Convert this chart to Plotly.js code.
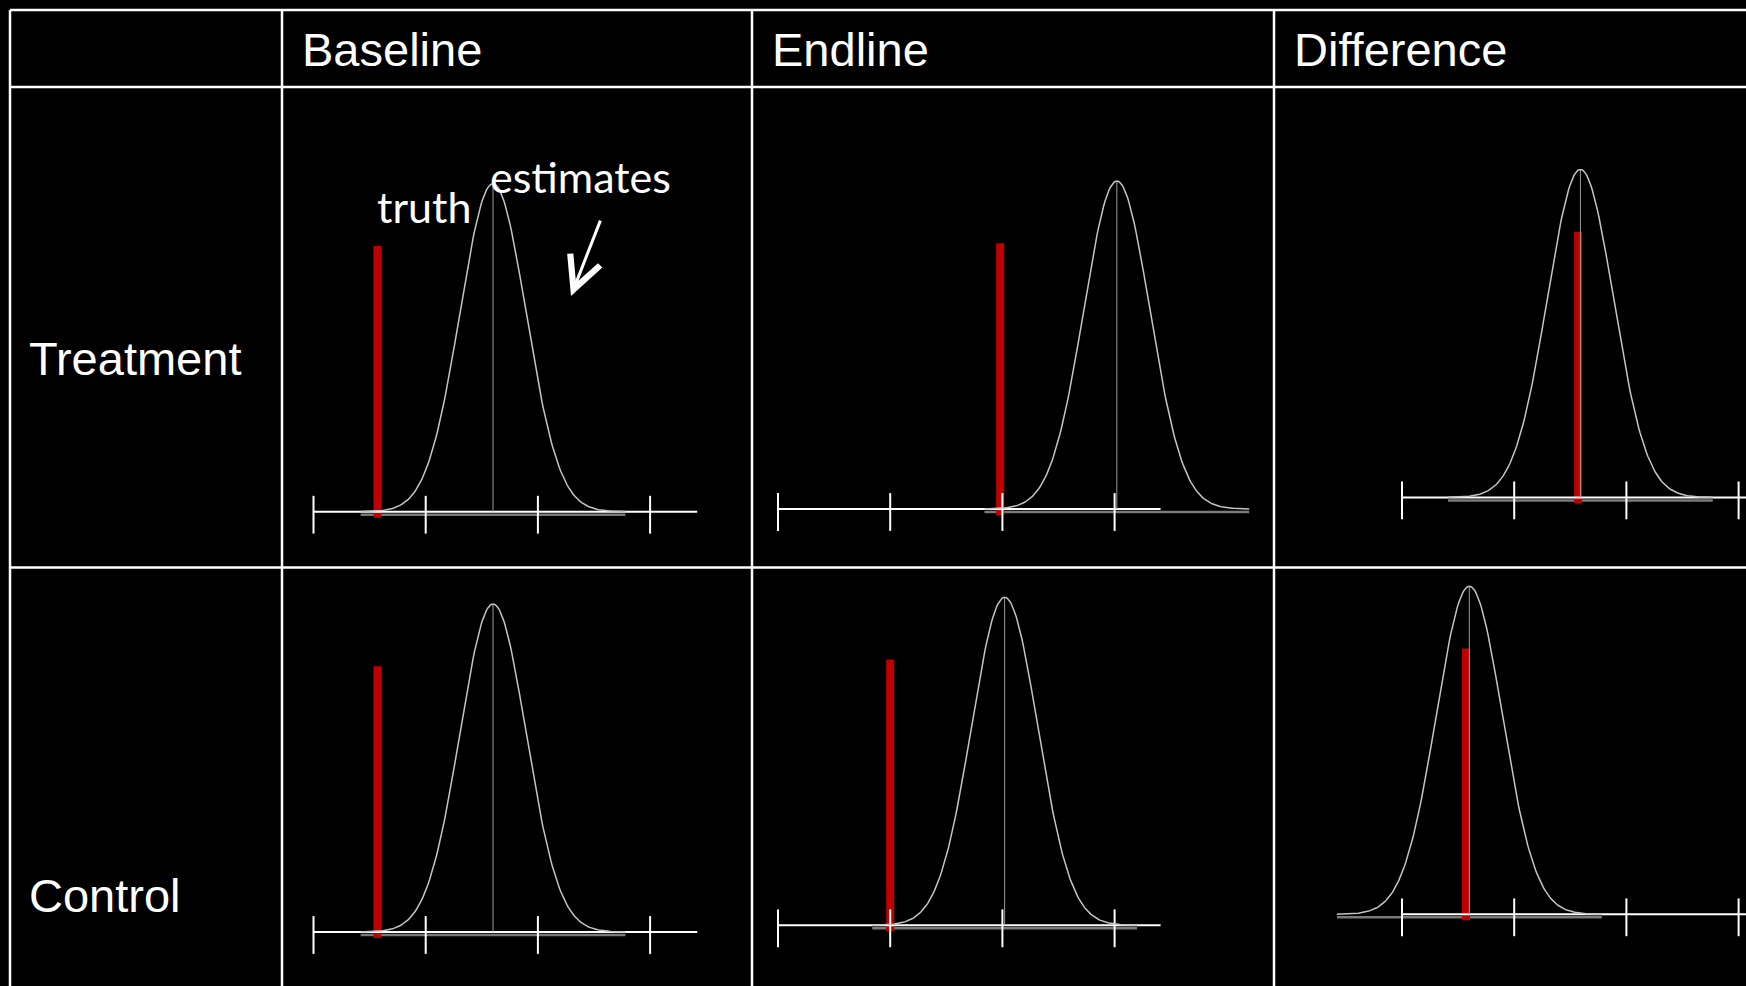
<!DOCTYPE html>
<html><head><meta charset="utf-8">
<script src="https://cdn.plot.ly/plotly-3.0.1.min.js"></script>
<style>html,body{margin:0;padding:0;background:#000;overflow:hidden}#chart{width:1746px;height:986px}</style>
</head><body><div id="chart"></div>
<script>
// ---------- data ----------
const columnLabels = ['Baseline', 'Endline', 'Difference'];
const rowLabels = ['Treatment', 'Control'];
const tickValues = [0, 1, 2, 3];
const truthTreatment = [0.57, 1.98, 1.57];
const truthControl = [0.57, 1.00, 0.57];
const meanTreatment = [1.60, 3.02, 1.59];
const meanControl = [1.60, 2.02, 0.60];
const sdTreatment = [0.295, 0.295, 0.295];
const sdControl = [0.295, 0.295, 0.295];
const axisEndTreatment = [3.42, 3.41, 3.40];
const axisEndControl = [3.42, 3.41, 3.40];
const truthBarHeight = [0.81, 0.81, 0.81, 0.81, 0.81, 0.81];
const annotationLabels = ['truth', 'estimates'];

// ---------- layout geometry ----------
const W = 1746, H = 986;
const SX = 112.2, SY = 328;
const colBox = [[283, 751], [753, 1273], [1275, 1746]];
const rowBox = [[88, 566], [569, 986]];
const originX = [313.5, 778, 1402];
const originY = [[511.7, 509, 497.4], [932, 925.3, 914.3]];
const drop = 3 / SY;

const truths = [truthTreatment, truthControl];
const means = [meanTreatment, meanControl];
const sds = [sdTreatment, sdControl];
const axisEnds = [axisEndTreatment, axisEndControl];

const traces = [];
const layout = {
  width: W, height: H,
  margin: {l: 0, r: 0, t: 0, b: 0},
  paper_bgcolor: '#000', plot_bgcolor: 'rgba(0,0,0,0)',
  showlegend: false,
  shapes: [], annotations: []
};

function px(x) { return x / W; }
function py(y) { return 1 - y / H; }

for (let r = 0; r < 2; r++) {
  for (let c = 0; c < 3; c++) {
    const k = r * 3 + c + 1;
    const xa = 'x' + (k === 1 ? '' : k), ya = 'y' + (k === 1 ? '' : k);
    const xkey = 'xaxis' + (k === 1 ? '' : k), ykey = 'yaxis' + (k === 1 ? '' : k);
    const ox = originX[c], oy = originY[r][c];
    layout[xkey] = {
      domain: [px(colBox[c][0]), px(colBox[c][1])],
      range: [(colBox[c][0] - ox) / SX, (colBox[c][1] - ox) / SX],
      visible: false, fixedrange: true, anchor: ya
    };
    layout[ykey] = {
      domain: [py(rowBox[r][1]), py(rowBox[r][0])],
      range: [(oy - rowBox[r][1]) / SY, (oy - rowBox[r][0]) / SY],
      visible: false, fixedrange: true, anchor: xa
    };
    const m = means[r][c], s = sds[r][c], t = truths[r][c];
    // estimate density curve (normal, peak-normalised)
    const cx = [], cy = [];
    for (let i = 0; i <= 200; i++) {
      const z = -4 + 8 * i / 200;
      cx.push(m + z * s);
      cy.push(Math.exp(-0.5 * z * z));
    }
    // curve baseline
    traces.push({x: [m - 4 * s, m + 4 * s], y: [-drop, -drop], xaxis: xa, yaxis: ya,
      mode: 'lines', line: {color: '#7a7a7a', width: 2.5}, hoverinfo: 'skip'});
    // truth bar
    traces.push({x: [t, t], y: [-0.018, truthBarHeight[k - 1]], xaxis: xa, yaxis: ya,
      mode: 'lines', line: {color: '#c00000', width: 8}, hoverinfo: 'skip'});
    // axis line
    traces.push({x: [tickValues[0], axisEnds[r][c]], y: [0, 0], xaxis: xa, yaxis: ya,
      mode: 'lines', line: {color: '#ffffff', width: 2}, hoverinfo: 'skip'});
    // ticks
    traces.push({x: tickValues, y: tickValues.map(() => -drop), xaxis: xa, yaxis: ya,
      mode: 'markers', marker: {symbol: 'line-ns', size: 27, line: {color: '#ffffff', width: 2}},
      hoverinfo: 'skip', cliponaxis: false});
    // mean line
    traces.push({x: [m, m], y: [0, 1], xaxis: xa, yaxis: ya,
      mode: 'lines', line: {color: '#9a9a9a', width: 1}, hoverinfo: 'skip'});
    // curve
    traces.push({x: cx, y: cy, xaxis: xa, yaxis: ya,
      mode: 'lines', line: {color: '#c4c4c4', width: 1.5}, hoverinfo: 'skip'});
  }
}

// ---------- table grid ----------
const lineStyle = {color: '#ffffff', width: 2.5};
[10, 87, 567.5].forEach(y => layout.shapes.push({type: 'line', xref: 'paper', yref: 'paper',
  x0: px(10), x1: 1.01, y0: py(y), y1: py(y), line: lineStyle}));
[10, 282, 752, 1274].forEach(x => layout.shapes.push({type: 'line', xref: 'paper', yref: 'paper',
  x0: px(x), x1: px(x), y0: py(10), y1: -0.01, line: lineStyle}));

// ---------- labels ----------
const headFont = {family: 'Liberation Sans, Arial, sans-serif', size: 47, color: '#ffffff'};
const headerX = [300, 770, 1292];
columnLabels.forEach((txt, i) => layout.annotations.push({text: txt, xref: 'paper', yref: 'paper',
  x: px(headerX[i]), y: py(49.7), xanchor: 'left', yanchor: 'middle', showarrow: false, font: headFont}));
const rowY = [358.7, 895.7];
rowLabels.forEach((txt, i) => layout.annotations.push({text: txt, xref: 'paper', yref: 'paper',
  x: px(27), y: py(rowY[i]), xanchor: 'left', yanchor: 'middle', showarrow: false, font: headFont}));

const noteFont = {family: 'Lato, Open Sans, sans-serif', size: 43, color: '#ffffff'};
layout.annotations.push({text: annotationLabels[0], xref: 'paper', yref: 'paper',
  x: px(375), y: py(206.4), xanchor: 'left', yanchor: 'middle', showarrow: false, font: noteFont});
layout.annotations.push({text: annotationLabels[1], xref: 'paper', yref: 'paper',
  x: px(488), y: py(176.4), xanchor: 'left', yanchor: 'middle', showarrow: false, font: noteFont});
// arrow pointing at estimate curve (Baseline / Treatment panel)
layout.annotations.push({text: '', xref: 'x', yref: 'y', axref: 'x', ayref: 'y',
  x: 2.295, y: 0.658, ax: 2.562, ay: 0.892, showarrow: true,
  arrowhead: 5, arrowsize: 2.1, arrowwidth: 3, arrowcolor: '#ffffff', standoff: 0, startstandoff: 0});

Plotly.newPlot('chart', traces, layout, {staticPlot: true, displayModeBar: false});
</script>
</body></html>
